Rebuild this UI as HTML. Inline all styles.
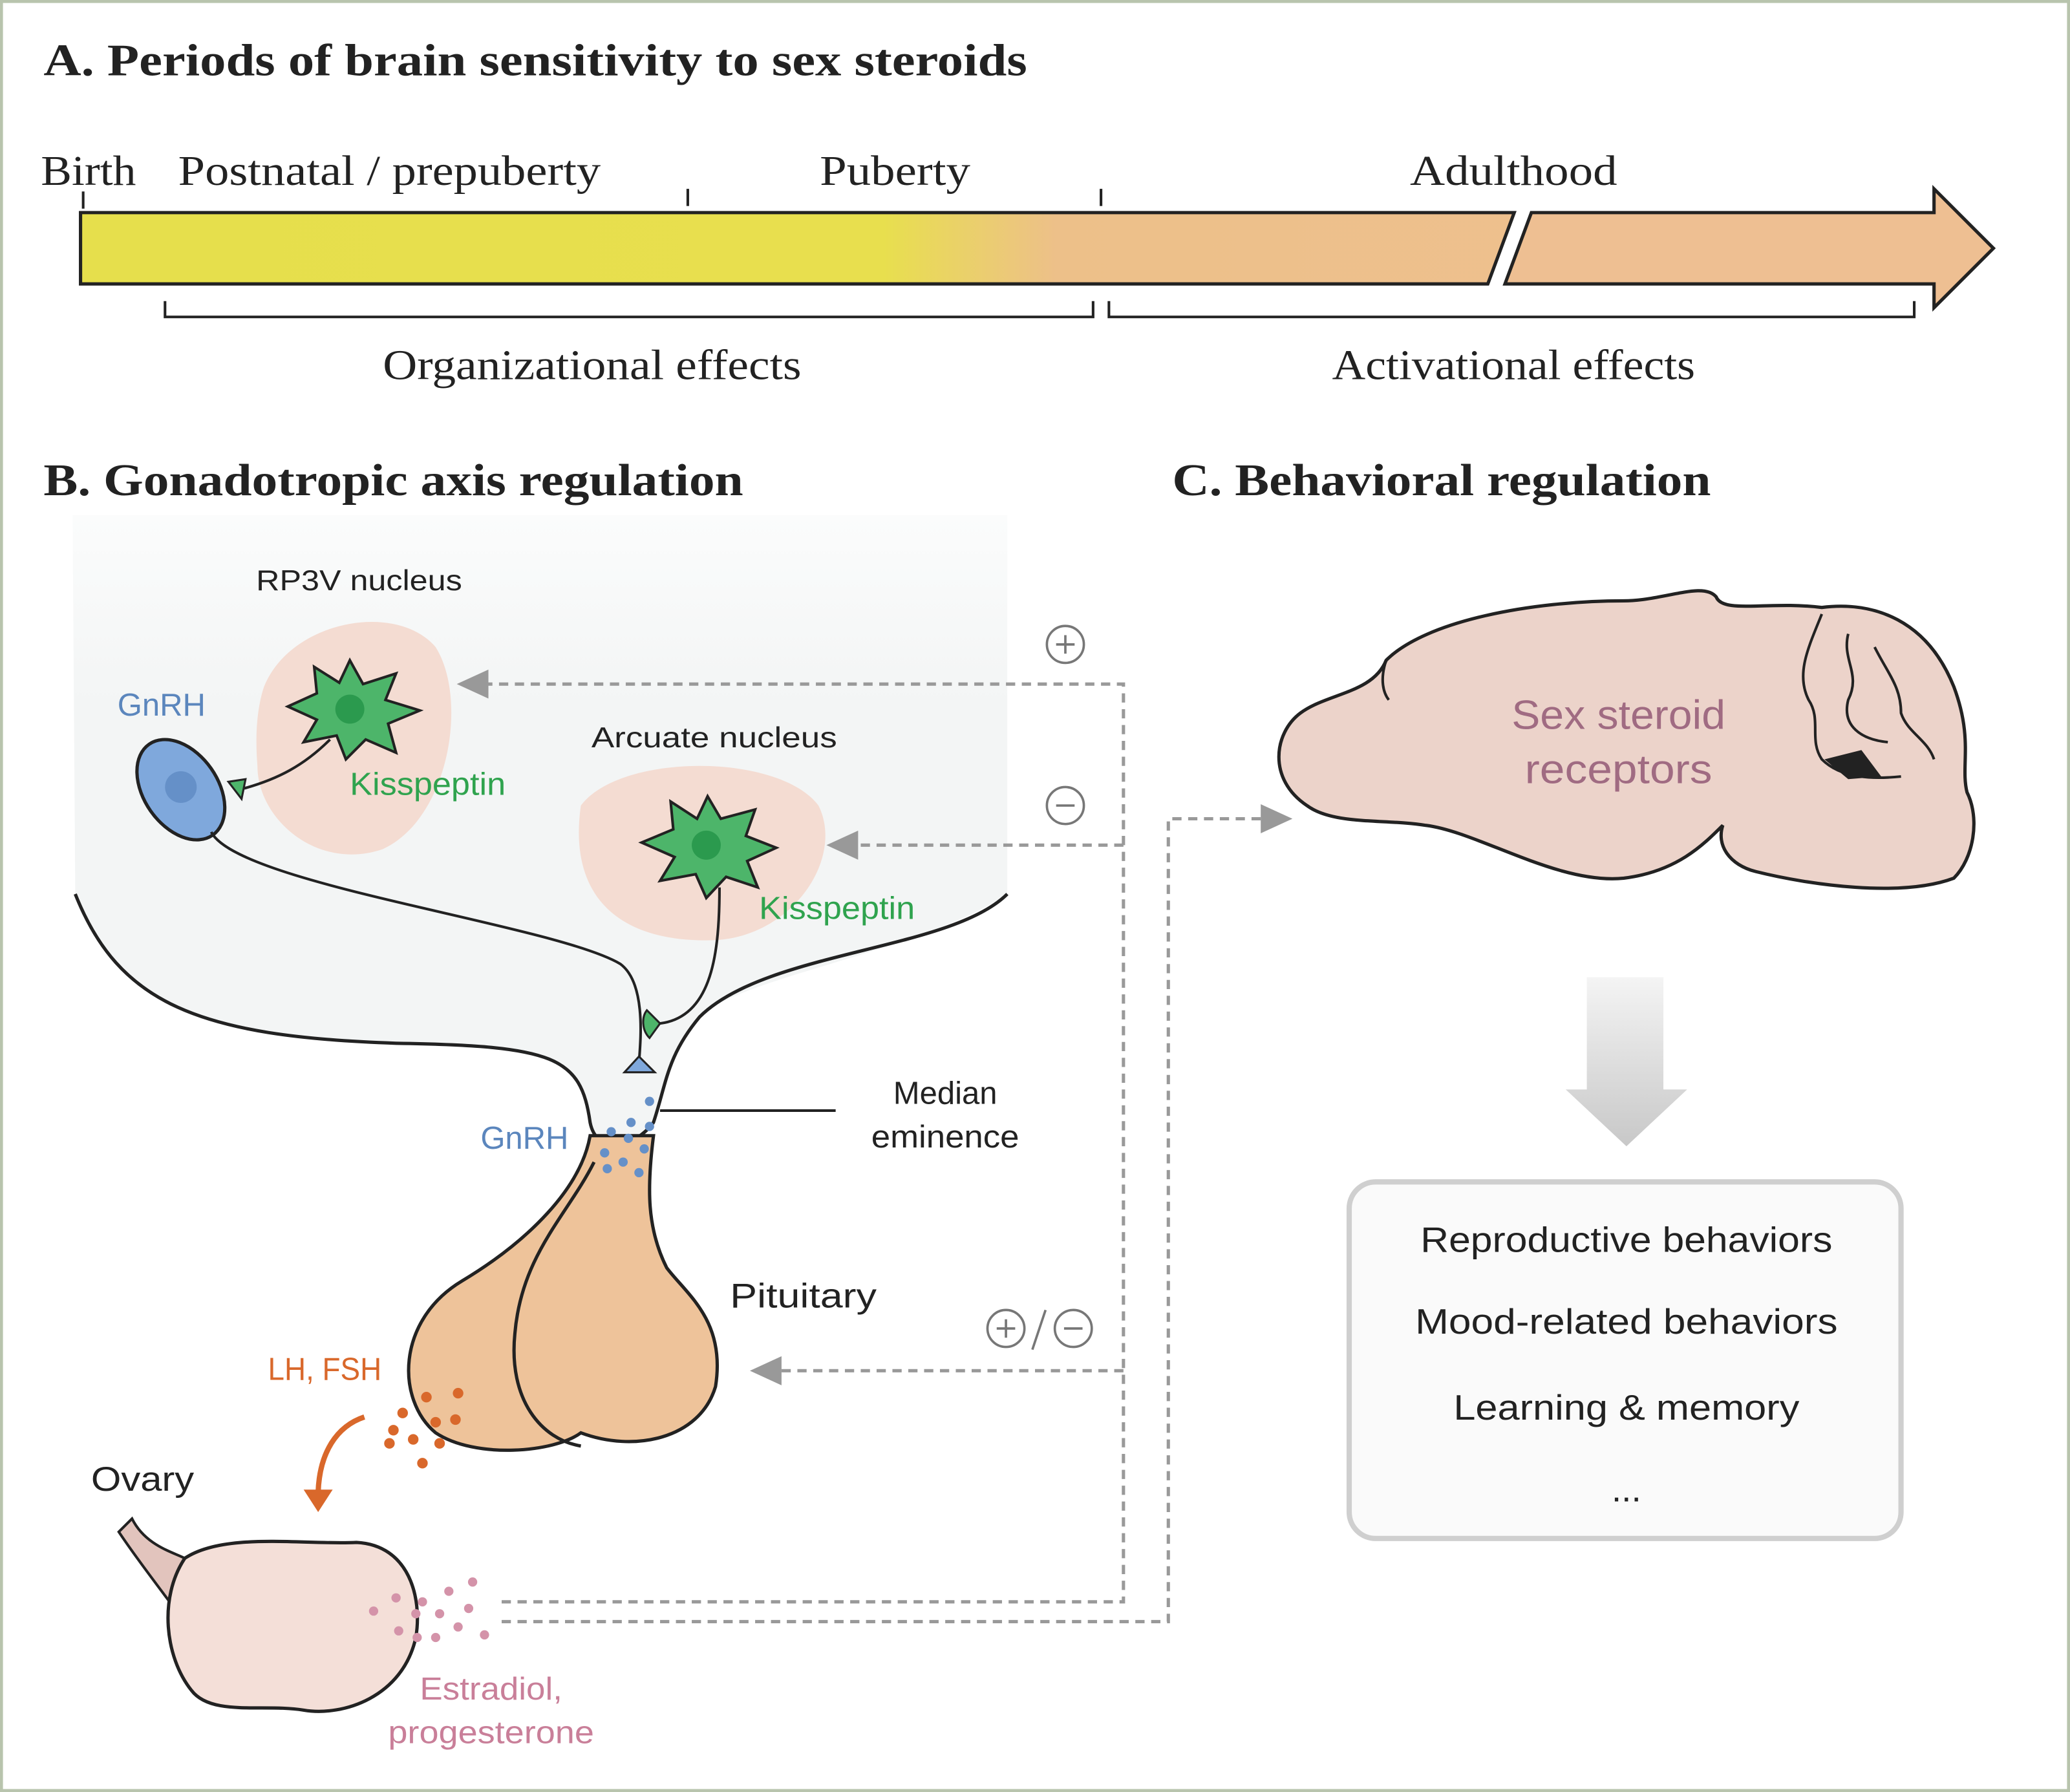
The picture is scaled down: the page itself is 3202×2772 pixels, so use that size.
<!DOCTYPE html>
<html><head><meta charset="utf-8"><style>
html,body{margin:0;padding:0;background:#fff}
svg{display:block}
.s{font-family:"Liberation Serif",serif}
.a{font-family:"Liberation Sans",sans-serif}
</style></head><body>
<svg width="3202" height="2772" viewBox="0 0 1568 1357" preserveAspectRatio="none" xmlns="http://www.w3.org/2000/svg">
<defs>
<linearGradient id="bar" x1="61" x2="1510" y1="0" y2="0" gradientUnits="userSpaceOnUse">
<stop offset="0" stop-color="#e6df4c"/><stop offset="0.42" stop-color="#e8df4e"/><stop offset="0.51" stop-color="#edc089"/><stop offset="1" stop-color="#eebf92"/>
</linearGradient>
<linearGradient id="garr" x1="0" x2="0" y1="0" y2="1">
<stop offset="0" stop-color="#f4f4f4"/><stop offset="1" stop-color="#c8c8c8"/>
</linearGradient>
<linearGradient id="bg" x1="0" x2="0" y1="0" y2="1">
<stop offset="0" stop-color="#fbfcfc"/><stop offset="0.3" stop-color="#f3f5f5"/><stop offset="1" stop-color="#f3f5f5"/>
</linearGradient>
<marker id="ah" markerWidth="24" markerHeight="22" refX="20" refY="11" orient="auto" markerUnits="userSpaceOnUse" viewBox="0 0 24 22"><path d="M0,0 L24,11 L0,22 Z" fill="#999"/></marker>
</defs>
<rect x="1" y="1" width="1566" height="1355" fill="#fff" stroke="#b8c4ad" stroke-width="2.5"/>

<!-- A -->
<text x="33" y="57" class="s" font-weight="bold" font-size="34" fill="#222" textLength="745" lengthAdjust="spacingAndGlyphs">A. Periods of brain sensitivity to sex steroids</text>
<g class="s" font-size="32" fill="#222">
<text x="31" y="140" textLength="72" lengthAdjust="spacingAndGlyphs">Birth</text>
<text x="135" y="140" textLength="320" lengthAdjust="spacingAndGlyphs">Postnatal / prepuberty</text>
<text x="621" y="140" textLength="114" lengthAdjust="spacingAndGlyphs">Puberty</text>
<text x="1068" y="140" textLength="157" lengthAdjust="spacingAndGlyphs">Adulthood</text>
</g>
<g stroke="#222" stroke-width="2">
<line x1="63" y1="145" x2="63" y2="158"/><line x1="521" y1="143" x2="521" y2="156"/><line x1="834" y1="143" x2="834" y2="156"/>
</g>
<path d="M61,161 L1147,161 L1127,215 L61,215 Z" fill="url(#bar)" stroke="#222" stroke-width="2.5"/>
<path d="M1160,161 L1465,161 L1465,143 L1510,188 L1465,233 L1465,215 L1140,215 Z" fill="#eebf92" stroke="#222" stroke-width="2.5"/>
<g fill="none" stroke="#222" stroke-width="2">
<path d="M125,228 V240 H828 V228"/><path d="M840,228 V240 H1450 V228"/>
</g>
<text x="290" y="287" class="s" font-size="32" fill="#222" textLength="317" lengthAdjust="spacingAndGlyphs">Organizational effects</text>
<text x="1009" y="287" class="s" font-size="32" fill="#222" textLength="275" lengthAdjust="spacingAndGlyphs">Activational effects</text>

<!-- B -->
<text x="33" y="375" class="s" font-weight="bold" font-size="34" fill="#222" textLength="530" lengthAdjust="spacingAndGlyphs">B. Gonadotropic axis regulation</text>
<text x="888" y="375" class="s" font-weight="bold" font-size="34" fill="#222" textLength="408" lengthAdjust="spacingAndGlyphs">C. Behavioral regulation</text>

<path d="M55,390 H763 V677 C700,720 560,740 530,770 C505,800 505,820 495,850 C480,870 452,875 447,850 C440,800 420,792 300,790 C150,785 90,760 57,677 Z" fill="url(#bg)"/>
<path d="M57,677 C90,760 150,785 300,790 C420,792 440,800 447,850 C452,875 480,870 495,850 C505,820 505,800 530,770 C580,720 720,720 763,677" fill="none" stroke="#222" stroke-width="2.5"/>

<!-- pituitary -->
<path d="M447,860 C440,900 400,940 350,970 C300,1000 300,1060 330,1085 C360,1105 420,1100 440,1085 C480,1100 530,1090 542,1050 C550,1000 520,980 505,960 C490,930 490,900 495,860 Z" fill="#eec39a" stroke="#222" stroke-width="2.5"/>
<path d="M450,880 C430,920 395,950 390,1010 C385,1060 410,1090 440,1095" fill="none" stroke="#222" stroke-width="2.5"/>
<text x="553" y="990" class="a" font-size="26" fill="#222" textLength="111" lengthAdjust="spacingAndGlyphs">Pituitary</text>

<!-- nuclei -->
<path d="M200,520 C220,470 300,455 330,490 C355,530 340,620 290,643 C240,660 195,620 195,580 C193,555 195,535 200,520 Z" fill="#f4dcd2"/>
<path d="M440,610 C470,570 590,570 620,610 C640,650 600,710 540,712 C470,714 430,680 440,610 Z" fill="#f4dcd2"/>
<text x="194" y="447" class="a" font-size="22" fill="#222" textLength="156" lengthAdjust="spacingAndGlyphs">RP3V nucleus</text>
<text x="448" y="566" class="a" font-size="22" fill="#222" textLength="186" lengthAdjust="spacingAndGlyphs">Arcuate nucleus</text>

<!-- stars -->
<path d="M265,500 L275,518 L300,510 L292,530 L318,538 L294,548 L300,570 L277,560 L262,575 L255,557 L230,562 L240,545 L218,535 L240,525 L238,505 L257,517 Z" fill="#4db56a" stroke="#222" stroke-width="2"/>
<circle cx="265" cy="537" r="11" fill="#2b9a4e"/>
<path d="M536,603 L546,620 L572,613 L565,633 L588,642 L566,652 L574,672 L550,664 L535,680 L527,662 L500,667 L511,649 L486,638 L510,628 L508,607 L528,620 Z" fill="#4db56a" stroke="#222" stroke-width="2"/>
<circle cx="535" cy="640" r="11" fill="#2b9a4e"/>
<path d="M250,560 C230,580 210,590 185,597" fill="none" stroke="#222" stroke-width="2"/>
<path d="M173,592 L186,590 L183,605 Z" fill="#4db56a" stroke="#222" stroke-width="1.5"/>
<path d="M545,672 C545,720 540,770 500,775" fill="none" stroke="#222" stroke-width="2"/>
<path d="M490,765 L500,775 L492,786 C486,780 486,770 490,765 Z" fill="#4db56a" stroke="#222" stroke-width="1.5"/>
<text x="265" y="602" class="a" font-size="24" fill="#2fa34e" textLength="118" lengthAdjust="spacingAndGlyphs">Kisspeptin</text>
<text x="575" y="696" class="a" font-size="24" fill="#2fa34e" textLength="118" lengthAdjust="spacingAndGlyphs">Kisspeptin</text>

<!-- GnRH cell -->
<ellipse cx="137" cy="598" rx="28" ry="42" transform="rotate(-35 137 598)" fill="#7fa8dc" stroke="#222" stroke-width="2.5"/>
<circle cx="137" cy="596" r="12" fill="#6590c8"/>
<path d="M160,630 C180,670 420,700 470,730 C490,745 485,790 484,805" fill="none" stroke="#222" stroke-width="2"/>
<path d="M473,812 L484,800 L496,812 Z" fill="#7fa8dc" stroke="#222" stroke-width="1.5"/>
<text x="89" y="542" class="a" font-size="24" fill="#5b86bd">GnRH</text>
<text x="364" y="870" class="a" font-size="24" fill="#5b86bd">GnRH</text>
<g fill="#6590c8">
<circle cx="492" cy="834" r="3.5"/><circle cx="478" cy="850" r="3.5"/><circle cx="492" cy="853" r="3.5"/><circle cx="463" cy="857" r="3.5"/><circle cx="476" cy="862" r="3.5"/><circle cx="488" cy="870" r="3.5"/><circle cx="458" cy="873" r="3.5"/><circle cx="472" cy="880" r="3.5"/><circle cx="484" cy="888" r="3.5"/><circle cx="460" cy="885" r="3.5"/>
</g>
<line x1="500" y1="841" x2="633" y2="841" stroke="#222" stroke-width="2"/>
<text x="716" y="836" class="a" font-size="24" fill="#222" text-anchor="middle">Median</text>
<text x="716" y="869" class="a" font-size="24" fill="#222" text-anchor="middle" textLength="112" lengthAdjust="spacingAndGlyphs">eminence</text>

<!-- LH FSH -->
<text x="203" y="1045" class="a" font-size="24" fill="#d9682b" textLength="86" lengthAdjust="spacingAndGlyphs">LH, FSH</text>
<g fill="#d9682b">
<circle cx="323" cy="1058" r="4"/><circle cx="347" cy="1055" r="4"/><circle cx="305" cy="1070" r="4"/><circle cx="330" cy="1077" r="4"/><circle cx="345" cy="1075" r="4"/><circle cx="298" cy="1083" r="4"/><circle cx="313" cy="1090" r="4"/><circle cx="333" cy="1093" r="4"/><circle cx="295" cy="1093" r="4"/><circle cx="320" cy="1108" r="4"/>
</g>
<path d="M276,1073 C255,1080 242,1100 241,1130" fill="none" stroke="#d9682b" stroke-width="4"/>
<path d="M230,1128 L252,1128 L241,1145 Z" fill="#d9682b"/>

<!-- Ovary -->
<text x="69" y="1129" class="a" font-size="26" fill="#222" textLength="78" lengthAdjust="spacingAndGlyphs">Ovary</text>
<path d="M90,1160 L100,1150 C110,1170 130,1175 140,1180 L130,1215 C115,1195 100,1175 90,1160 Z" fill="#e2c4bd" stroke="#222" stroke-width="2"/>
<path d="M140,1180 C170,1160 230,1170 270,1168 C310,1170 320,1210 315,1240 C305,1285 260,1300 230,1295 C200,1290 160,1300 145,1280 C125,1255 120,1210 140,1180 Z" fill="#f4dfd8" stroke="#222" stroke-width="2.5"/>
<g fill="#d493a9">
<circle cx="358" cy="1198" r="3.5"/><circle cx="340" cy="1205" r="3.5"/><circle cx="300" cy="1210" r="3.5"/><circle cx="320" cy="1213" r="3.5"/><circle cx="283" cy="1220" r="3.5"/><circle cx="315" cy="1222" r="3.5"/><circle cx="333" cy="1222" r="3.5"/><circle cx="355" cy="1218" r="3.5"/><circle cx="347" cy="1232" r="3.5"/><circle cx="302" cy="1235" r="3.5"/><circle cx="316" cy="1240" r="3.5"/><circle cx="330" cy="1240" r="3.5"/><circle cx="367" cy="1238" r="3.5"/>
</g>
<text x="372" y="1287" class="a" font-size="24" fill="#c97f99" text-anchor="middle" textLength="108" lengthAdjust="spacingAndGlyphs">Estradiol,</text>
<text x="372" y="1320" class="a" font-size="24" fill="#c97f99" text-anchor="middle" textLength="156" lengthAdjust="spacingAndGlyphs">progesterone</text>

<!-- dashed feedback -->
<g fill="none" stroke="#999" stroke-width="2.5" stroke-dasharray="7,5">
<path d="M380,1213 H851 V518 H350" marker-end="url(#ah)"/>
<path d="M851,640 H630" marker-end="url(#ah)"/>
<path d="M851,1038 H572" marker-end="url(#ah)"/>
<path d="M380,1228 H885 V620 H975" marker-end="url(#ah)"/>
</g>
<g fill="none" stroke="#777" stroke-width="1.8">
<circle cx="807" cy="488" r="14"/><path d="M800,488 H814 M807,481 V495"/>
<circle cx="807" cy="610" r="14"/><path d="M800,610 H814"/>
<circle cx="762" cy="1006" r="14"/><path d="M755,1006 H769 M762,999 V1013"/>
<circle cx="813" cy="1006" r="14"/><path d="M806,1006 H820"/>
<path d="M792,992 L782,1022"/>
</g>

<!-- Brain -->
<path d="M1050,500 C1080,470 1160,455 1230,455 C1260,455 1290,440 1300,452 C1305,465 1340,455 1380,460 C1420,455 1460,470 1480,520 C1495,560 1485,580 1490,600 C1500,620 1495,650 1480,665 C1440,680 1370,670 1330,660 C1310,655 1300,640 1305,625 C1290,640 1270,660 1230,665 C1180,670 1120,630 1080,625 C1050,620 1010,625 990,610 C960,590 965,555 985,540 C1005,525 1040,525 1050,500 Z" fill="#ecd3ca" stroke="#222" stroke-width="2.5"/>
<g fill="none" stroke="#222" stroke-width="2">
<path d="M1380,465 C1370,490 1360,510 1370,530 C1380,545 1370,560 1380,575 C1395,590 1420,590 1440,588"/>
<path d="M1400,480 C1395,500 1410,510 1400,530 C1395,550 1410,560 1430,562"/>
<path d="M1420,490 C1430,510 1440,520 1440,540 C1445,555 1460,560 1465,575"/>
<path d="M1050,500 C1045,515 1048,525 1052,530"/>
</g>
<path d="M1382,575 L1410,568 L1425,588 L1400,590 Z" fill="#222"/>
<text x="1226" y="552" class="a" font-size="31" fill="#a06b82" text-anchor="middle" textLength="162" lengthAdjust="spacingAndGlyphs">Sex steroid</text>
<text x="1226" y="593" class="a" font-size="31" fill="#a06b82" text-anchor="middle" textLength="142" lengthAdjust="spacingAndGlyphs">receptors</text>

<!-- gray arrow -->
<path d="M1202,740 H1260 V825 H1278 L1232,868 L1186,825 H1202 Z" fill="url(#garr)"/>

<!-- box -->
<rect x="1022" y="895" width="418" height="270" rx="20" fill="#fafafa" stroke="#cfcfcf" stroke-width="4"/>
<g class="a" font-size="27" fill="#222" text-anchor="middle">
<text x="1232" y="948" textLength="312" lengthAdjust="spacingAndGlyphs">Reproductive behaviors</text>
<text x="1232" y="1010" textLength="320" lengthAdjust="spacingAndGlyphs">Mood-related behaviors</text>
<text x="1232" y="1075" textLength="262" lengthAdjust="spacingAndGlyphs">Learning &amp; memory</text>
<text x="1232" y="1137">...</text>
</g>
</svg>
</body></html>
